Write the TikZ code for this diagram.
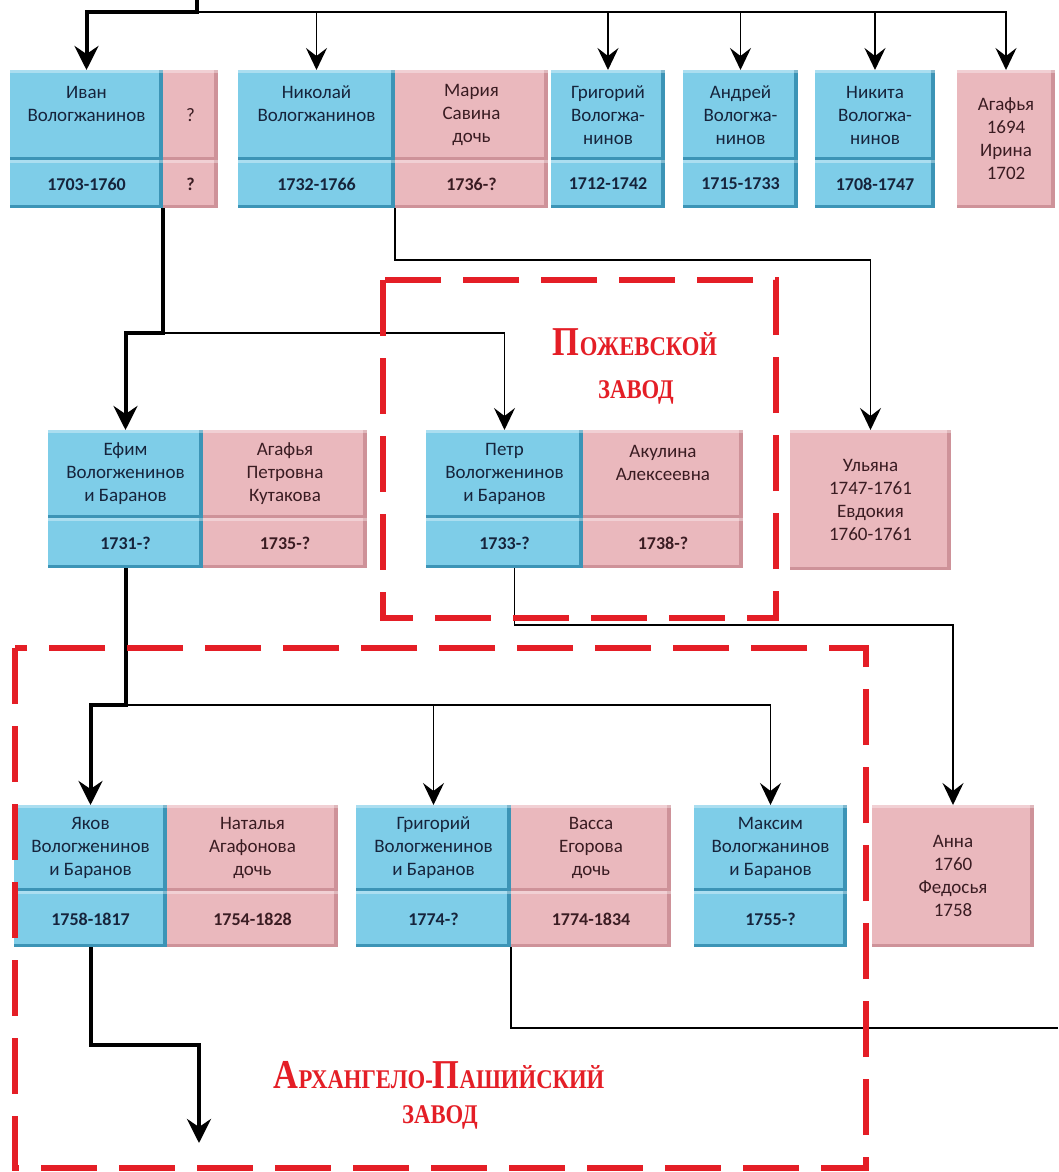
\documentclass[tikz,border=0pt]{standalone}
\usepackage{fontspec}
\setmainfont{Carlito}
\newfontfamily\zavodfont{Liberation Serif}
\usepackage{graphicx}
\usepackage{tikz}
\usepackage{xcolor}
\usetikzlibrary{arrows.meta, positioning, calc}
\definecolor{maleblue}{RGB}{126,205,232}
\definecolor{maleedge}{RGB}{60,148,182}
\definecolor{femalepink}{RGB}{234,184,189}
\definecolor{femaleedge}{RGB}{206,146,153}
\definecolor{maletext}{RGB}{22,36,60}
\definecolor{femaletext}{RGB}{58,28,34}
\definecolor{zavodred}{RGB}{228,30,38}
\tikzset{bevel/.style={path picture={
    \fill[#1] ([xshift=-4pt]path picture bounding box.north east) rectangle (path picture bounding box.south east);
    \fill[#1] (path picture bounding box.south west) rectangle ([yshift=3pt]path picture bounding box.south east);
    \fill[white, opacity=0.35] (path picture bounding box.north west) rectangle ([yshift=-3pt]path picture bounding box.north east);}}}
\tikzstyle{male} = [rectangle, fill=maleblue, bevel=maleedge, text=maletext, inner sep=0pt, outer sep=0pt, align=center, font=\fontsize{19}{23}\selectfont]
\tikzstyle{female} = [rectangle, fill=femalepink, bevel=femaleedge, text=femaletext, inner sep=0pt, outer sep=0pt, align=center, font=\fontsize{19}{23}\selectfont]
\tikzstyle{toprow} = [minimum height=90pt]
\tikzstyle{topdate} = [minimum height=48pt, font=\bfseries\fontsize{18}{20}\selectfont]
\tikzstyle{midrow} = [minimum height=88pt]
\tikzstyle{middate} = [minimum height=50pt, font=\bfseries\fontsize{18}{20}\selectfont]
\tikzstyle{lowrow} = [minimum height=86pt]
\tikzstyle{lowdate} = [minimum height=56pt, font=\bfseries\fontsize{18}{20}\selectfont]
\tikzstyle{arrow} = [line width=1.8pt, -{Stealth[length=22pt, width=21pt, inset=8pt]}]
\tikzstyle{lineage} = [line width=4pt, -{Stealth[length=24pt, width=24pt, inset=8pt]}]
\tikzstyle{link} = [line width=1.8pt]
\tikzstyle{zavod} = [draw=zavodred, line width=6pt, dash pattern=on 56pt off 22pt]
\tikzstyle{zavodlabel} = [text=zavodred, font=\zavodfont\bfseries, inner sep=0pt, anchor=base]
\newcommand{\zavodname}[2]{\scalebox{0.84}[1]{{\fontsize{41}{41}\selectfont #1}{\fontsize{27}{27}\selectfont #2}}}
\newcommand{\zavodword}{\scalebox{0.84}[1]{\fontsize{27}{27}\selectfont ЗАВОД}}

\begin{document}
\begin{tikzpicture}[x=1pt, y=-1pt, node distance=0pt]
    \useasboundingbox [fill=white] (0,0) rectangle (1058,1172);

    \node (ivan) [male, toprow, minimum width=153pt, anchor=north west] at (10,70) {Иван\\Вологжанинов\\~};
    \node (ivand) [male, topdate, minimum width=153pt, below=of ivan] {1703-1760};
    \node (ivanw) [female, toprow, minimum width=55pt, right=of ivan] {?};
    \node (ivanwd) [female, topdate, minimum width=55pt, below=of ivanw] {?};
    \node (nikolay) [male, toprow, minimum width=157pt, anchor=north west] at (238,70) {Николай\\Вологжанинов\\~};
    \node (nikolayd) [male, topdate, minimum width=157pt, below=of nikolay] {1732-1766};
    \node (mariya) [female, toprow, minimum width=153pt, right=of nikolay] {Мария\\Савина\\дочь};
    \node (mariyad) [female, topdate, minimum width=153pt, below=of mariya] {1736-?};
    \node (grigoriy) [male, toprow, minimum width=114pt, anchor=north west] at (551,70) {Григорий\\Вологжа-\\нинов};
    \node (grigoriyd) [male, topdate, minimum width=114pt, below=of grigoriy] {1712-1742};
    \node (andrey) [male, toprow, minimum width=115pt, anchor=north west] at (683,70) {Андрей\\Вологжа-\\нинов};
    \node (andreyd) [male, topdate, minimum width=115pt, below=of andrey] {1715-1733};
    \node (nikita) [male, toprow, minimum width=120pt, anchor=north west] at (815,70) {Никита\\Вологжа-\\нинов};
    \node (nikitad) [male, topdate, minimum width=120pt, below=of nikita] {1708-1747};
    \node (agafya) [female, minimum width=98pt, minimum height=138pt, anchor=north west] at (957,70) {Агафья\\1694\\Ирина\\1702};

    \node (efim) [male, midrow, minimum width=155pt, anchor=north west] at (48,430) {Ефим\\Вологженинов\\и Баранов};
    \node (efimd) [male, middate, minimum width=155pt, below=of efim] {1731-?};
    \node (agafyak) [female, midrow, minimum width=164pt, right=of efim] {Агафья\\Петровна\\Кутакова};
    \node (agafyakd) [female, middate, minimum width=164pt, below=of agafyak] {1735-?};
    \node (petr) [male, midrow, minimum width=157pt, anchor=north west] at (426,430) {Петр\\Вологженинов\\и Баранов};
    \node (petrd) [male, middate, minimum width=157pt, below=of petr] {1733-?};
    \node (akulina) [female, midrow, minimum width=160pt, right=of petr] {Акулина\\Алексеевна\\~};
    \node (akulinad) [female, middate, minimum width=160pt, below=of akulina] {1738-?};
    \node (ulyana) [female, minimum width=161pt, minimum height=140pt, anchor=north west] at (790,430) {Ульяна\\1747-1761\\Евдокия\\1760-1761};

    \node (yakov) [male, lowrow, minimum width=153pt, anchor=north west] at (14,805) {Яков\\Вологженинов\\и Баранов};
    \node (yakovd) [male, lowdate, minimum width=153pt, below=of yakov] {1758-1817};
    \node (natalya) [female, lowrow, minimum width=171pt, right=of yakov] {Наталья\\Агафонова\\дочь};
    \node (natalyad) [female, lowdate, minimum width=171pt, below=of natalya] {1754-1828};
    \node (grigoriyb) [male, lowrow, minimum width=155pt, anchor=north west] at (356,805) {Григорий\\Вологженинов\\и Баранов};
    \node (grigoriybd) [male, lowdate, minimum width=155pt, below=of grigoriyb] {1774-?};
    \node (vassa) [female, lowrow, minimum width=160pt, right=of grigoriyb] {Васса\\Егорова\\дочь};
    \node (vassad) [female, lowdate, minimum width=160pt, below=of vassa] {1774-1834};
    \node (maksim) [male, lowrow, minimum width=153pt, anchor=north west] at (694,805) {Максим\\Вологжанинов\\и Баранов};
    \node (maksimd) [male, lowdate, minimum width=153pt, below=of maksim] {1755-?};
    \node (anna) [female, minimum width=162pt, minimum height=142pt, anchor=north west] at (872,805) {Анна\\1760\\Федосья\\1758};

    \coordinate (top) at (197,0);
    \coordinate (bus) at (197,12);
    \coordinate (ivanjoin) at (163,333);
    \coordinate (efimjoin) at (125.5,705);
    \coordinate (yakovnext) at (199,1143);
    \coordinate (exit) at (1058,1028);

    \draw [lineage] (top) -- (bus) -| (ivan.north);
    \draw [arrow] (bus) -| (nikolay.north);
    \draw [arrow] (bus) -| (grigoriy.north);
    \draw [arrow] (bus) -| (andrey.north);
    \draw [arrow] (bus) -| (nikita.north);
    \draw [arrow] (bus) -| (agafya.north);
    \draw [lineage] (ivand.south east) -- (ivanjoin) -| (efim.north);
    \draw [arrow] (ivanjoin) -| (petr.north);
    \draw [arrow] (nikolayd.south east) -- ++(0,52) -| (ulyana.north);
    \draw [lineage] (efimd.south) -- (efimjoin) -| (yakov.north);
    \draw [arrow] (efimjoin) -| (grigoriyb.north);
    \draw [arrow] (efimjoin) -| (maksim.north);
    \draw [arrow] ([xshift=10pt]petrd.south) -- ++(0,57) -| (anna.north);
    \draw [lineage] (yakovd.south) -- ++(0,98) -| (yakovnext);
    \draw [link] (grigoriybd.south east) -- ++(0,81) -- (exit);

    \draw [zavod] (383,280) rectangle (776,618);
    \draw [zavod] (15,648) rectangle (866,1168);

    \node (pozhname) [zavodlabel] at (635,355) {\zavodname{П}{ОЖЕВСКОЙ}};
    \node (pozhword) [zavodlabel] at (636,398) {\zavodword};
    \node (arhname) [zavodlabel] at (439,1088) {\zavodname{А}{РХАНГЕЛО-}\zavodname{П}{АШИЙСКИЙ}};
    \node (arhword) [zavodlabel] at (440,1123) {\zavodword};
\end{tikzpicture}
\end{document}
